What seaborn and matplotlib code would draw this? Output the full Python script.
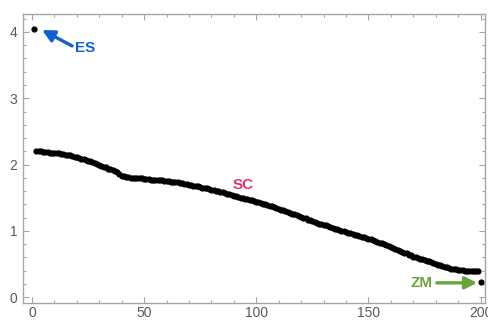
import numpy as np
import pandas as pd
import matplotlib
matplotlib.use("Agg")
import matplotlib.pyplot as plt
import seaborn as sns
from matplotlib.ticker import MultipleLocator

# ---- data ----
es_x = [1]
es_y = [4.05]
zm_x = [200]
zm_y = [0.22]
sc_x = list(range(2, 200))
sc_y = [
    2.20, 2.20, 2.20, 2.19, 2.19, 2.19, 2.18, 2.18, 2.18,
    2.17, 2.17, 2.16, 2.16, 2.15, 2.14, 2.14, 2.13, 2.12, 2.11,
    2.10, 2.09, 2.08, 2.07, 2.06, 2.05, 2.04, 2.03, 2.01, 2.00,
    1.98, 1.97, 1.96, 1.94, 1.93, 1.91, 1.90, 1.88, 1.85, 1.83,
    1.82, 1.81, 1.81, 1.80, 1.80, 1.80, 1.79, 1.79, 1.79, 1.78,
    1.78, 1.78, 1.77, 1.77, 1.77, 1.76, 1.76, 1.76, 1.75, 1.75,
    1.75, 1.74, 1.74, 1.73, 1.73, 1.72, 1.72, 1.71, 1.70, 1.69,
    1.69, 1.68, 1.67, 1.67, 1.66, 1.65, 1.65, 1.64, 1.63, 1.62,
    1.61, 1.60, 1.60, 1.59, 1.58, 1.57, 1.56, 1.55, 1.54, 1.53,
    1.52, 1.51, 1.50, 1.49, 1.48, 1.48, 1.47, 1.46, 1.45, 1.44,
    1.43, 1.42, 1.41, 1.40, 1.39, 1.38, 1.37, 1.36, 1.35, 1.33,
    1.32, 1.31, 1.30, 1.29, 1.27, 1.26, 1.25, 1.24, 1.22, 1.21,
    1.20, 1.19, 1.17, 1.16, 1.15, 1.14, 1.12, 1.11, 1.10, 1.09,
    1.08, 1.07, 1.05, 1.04, 1.03, 1.02, 1.01, 1.00, 0.99, 0.98,
    0.97, 0.96, 0.95, 0.94, 0.93, 0.92, 0.91, 0.90, 0.89, 0.88,
    0.87, 0.86, 0.85, 0.83, 0.82, 0.81, 0.80, 0.78, 0.77, 0.75,
    0.74, 0.72, 0.71, 0.70, 0.68, 0.67, 0.66, 0.64, 0.63, 0.61,
    0.60, 0.59, 0.58, 0.57, 0.56, 0.55, 0.54, 0.53, 0.52, 0.50,
    0.49, 0.48, 0.47, 0.46, 0.45, 0.44, 0.43, 0.42, 0.42, 0.41,
    0.41, 0.41, 0.40, 0.40, 0.40, 0.40, 0.40, 0.40, 0.40,
]
x_ticks = [0, 50, 100, 150, 200]
y_ticks = [0, 1, 2, 3, 4]

df = pd.DataFrame({
    "x": es_x + sc_x + zm_x,
    "y": es_y + sc_y + zm_y,
})

sns.set_theme(style="ticks")
plt.rcParams["font.family"] = ["Liberation Sans", "DejaVu Sans"]

fig = plt.figure(figsize=(4.88, 3.2), dpi=100)
ax = fig.add_axes([0.047, 0.053, 0.947, 0.903])

sns.scatterplot(data=df, x="x", y="y", ax=ax, color="black", s=20,
                linewidth=0, marker="o", legend=False)

ax.set_xlim(-4.0, 202.0)
ax.set_ylim(-0.09, 4.27)
ax.set_xticks(x_ticks)
ax.set_yticks(y_ticks)
ax.xaxis.set_minor_locator(MultipleLocator(10))
ax.yaxis.set_minor_locator(MultipleLocator(0.2))
ax.set_xlabel("")
ax.set_ylabel("")

frame_col = "#a6a6a6"
for sp in ax.spines.values():
    sp.set_visible(True)
    sp.set_color(frame_col)
    sp.set_linewidth(1.0)
ax.tick_params(which="both", direction="in", color=frame_col,
               top=True, right=True, labelcolor="#5a5a5a", labelsize=10)
ax.tick_params(axis="x", pad=2)
ax.tick_params(axis="y", pad=4)
ax.tick_params(which="major", length=4, width=0.8)
ax.tick_params(which="minor", length=2.2, width=0.8)

blue = "#1560d0"
green = "#6aa53a"
pink = "#e0356e"

arrow_kw = dict(arrowstyle="-|>", lw=2.4, mutation_scale=18, shrinkA=0, shrinkB=0)
ax.annotate("", xy=(4.5, 4.03), xytext=(17.9, 3.79),
            arrowprops=dict(color=blue, **arrow_kw))
ax.text(23.5, 3.76, "ES", color=blue, fontsize=11, fontweight="bold",
        ha="center", va="center")
ax.annotate("", xy=(198.5, 0.215), xytext=(180.5, 0.215),
            arrowprops=dict(color=green, **arrow_kw))
ax.text(173.8, 0.215, "ZM", color=green, fontsize=11, fontweight="bold",
        ha="center", va="center")
ax.text(94.2, 1.69, "SC", color=pink, fontsize=11, fontweight="bold",
        ha="center", va="center")

fig.savefig("out.png", dpi=100)
